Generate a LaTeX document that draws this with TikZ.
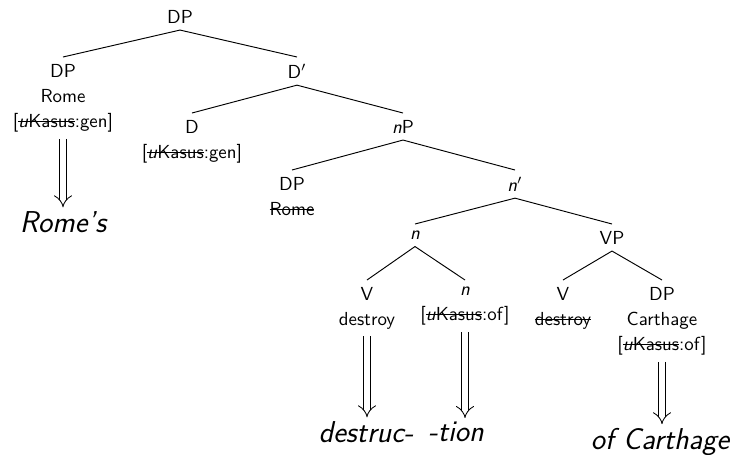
\documentclass[tikz,border=0pt]{standalone}
\usetikzlibrary{arrows.meta}
% struck-through (checked) material
\newsavebox\strkbox
\newcommand{\strk}[1]{\sbox\strkbox{#1}\rlap{\rule[0.65ex]{\wd\strkbox}{0.45pt}}\usebox\strkbox}
\begin{document}
\begin{tikzpicture}[x=0.53pt,y=-0.53pt,
  cat/.style={anchor=north, font=\sffamily\fontsize{10}{13.3}\selectfont, align=center, inner sep=3.5pt},
  word/.style={font=\sffamily\itshape\fontsize{16}{19}\selectfont, inner sep=2pt},
  branch/.style={line width=0.5pt},
  spellout/.style={double, double distance=3pt, line width=0.45pt, -{Implies[scale=1.3]}}
]
\useasboundingbox (0,0) rectangle (739,455);

% tree nodes
\node[cat] (dp0)  at (180,3)   {DP};
\node[cat] (dp1)  at (63,57)   {DP\\Rome\\{[}\strk{\textit{u}Kasus}:gen{]}};
\node[cat] (dbar) at (297,57)  {D$'$};
\node[cat] (d)    at (192,113) {D\\{[}\strk{\textit{u}Kasus}:gen{]}};
\node[cat] (np)   at (403,113) {\textit{n}P};
\node[cat] (dp3)  at (292,170) {DP\\\strk{Rome}};
\node[cat] (nbar) at (515,170) {\textit{n}$'$};
\node[cat] (n4)   at (415,224) {\textit{n}};
\node[cat] (vp)   at (612,224) {VP};
\node[cat] (v5)   at (367,280) {V\\destroy};
\node[cat] (n5)   at (465,280) {\textit{n}\\{[}\strk{\textit{u}Kasus}:of{]}};
\node[cat] (v6)   at (563,280) {V\\\strk{destroy}};
\node[cat] (dp6)  at (662,280) {DP\\Carthage\\{[}\strk{\textit{u}Kasus}:of{]}};

% spelled-out forms
\node[word] (romes)   at (63,222)  {Rome's};
\node[word] (destruc) at (366,432) {destruc-};
\node[word] (tion)    at (456,432) {-tion};
\node[word] (ofc)     at (660,442) {of Carthage};

% branches
\draw[branch] (dp0.south) -- (dp1.north);
\draw[branch] (dp0.south) -- (dbar.north);
\draw[branch] (dbar.south) -- (d.north);
\draw[branch] (dbar.south) -- (np.north);
\draw[branch] (np.south) -- (dp3.north);
\draw[branch] (np.south) -- (nbar.north);
\draw[branch] (nbar.south) -- (n4.north);
\draw[branch] (nbar.south) -- (vp.north);
\draw[branch] (n4.south) -- (v5.north);
\draw[branch] (n4.south) -- (n5.north);
\draw[branch] (vp.south) -- (v6.north);
\draw[branch] (vp.south) -- (dp6.north);

% spell-out arrows
\draw[spellout] (dp1.south) -- (dp1.south |- romes.north);
\draw[spellout] (v5.south) -- (v5.south |- destruc.north);
\draw[spellout] (n5.south) -- (n5.south |- tion.north);
\draw[spellout] (dp6.south) -- (dp6.south |- ofc.north);
\end{tikzpicture}
\end{document}
